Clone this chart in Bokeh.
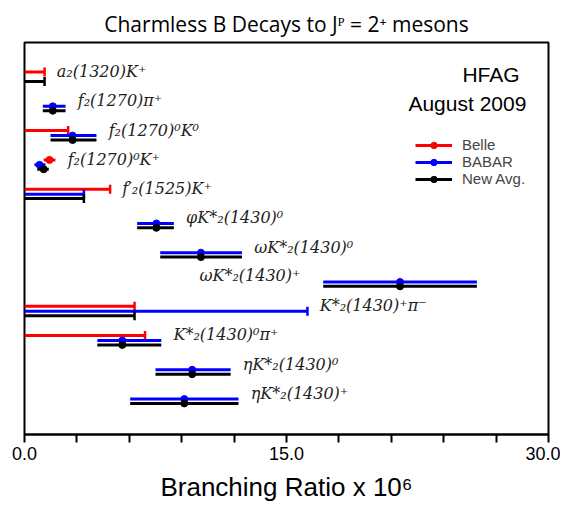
import math
from bokeh.plotting import figure
from bokeh.models import (Range1d, FixedTicker, PrintfTickFormatter, Legend,
                          LegendItem, Label, ColumnDataSource)
from bokeh.core.properties import value
from bokeh.embed import file_html
from bokeh.resources import INLINE

nan = float("nan")

# ---------------- data (branching ratio x 10^6) ----------------
decays = ["a₂(1320)K⁺", "f₂(1270)π⁺", "f₂(1270)⁰K⁰", "f₂(1270)⁰K⁺",
          "f′₂(1525)K⁺", "φK*₂(1430)⁰", "ωK*₂(1430)⁰", "ωK*₂(1430)⁺",
          "K*₂(1430)⁺π⁻", "K*₂(1430)⁰π⁺", "ηK*₂(1430)⁰", "ηK*₂(1430)⁺"]

belle_val = [nan, nan, nan, 1.43, nan, nan, nan, nan, nan, nan, nan, nan]
belle_em  = [nan, nan, nan, 0.33, nan, nan, nan, nan, nan, nan, nan, nan]
belle_ep  = [nan, nan, nan, 0.34, nan, nan, nan, nan, nan, nan, nan, nan]
belle_ul  = [1.15, nan, 2.5, nan, 4.9, nan, nan, nan, 6.3, 6.9, nan, nan]

babar_val = [nan, 1.62, 2.75, 0.86, nan, 7.55, 10.1, 21.5, nan, 5.6, 9.6, 9.15]
babar_em  = [nan, 0.57, 1.26, 0.29, nan, 1.10, 2.33, 4.4, nan, 1.43, 2.1, 3.1]
babar_ep  = [nan, 0.73, 1.37, 0.34, nan, 1.00, 2.35, 4.4, nan, 2.23, 2.2, 3.1]
babar_ul  = [nan, nan, nan, nan, 3.4, nan, nan, nan, 16.2, nan, nan, nan]

avg_val = [nan, 1.62, 2.75, 1.10, nan, 7.55, 10.1, 21.5, nan, 5.6, 9.6, 9.15]
avg_em  = [nan, 0.57, 1.26, 0.37, nan, 1.10, 2.33, 4.4, nan, 1.43, 2.1, 3.1]
avg_ep  = [nan, 0.73, 1.37, 0.29, nan, 1.00, 2.35, 4.4, nan, 2.23, 2.2, 3.1]
avg_ul  = [1.15, nan, nan, nan, 3.4, nan, nan, nan, 6.3, nan, nan, nan]

x_ticks = [0, 15, 30]
x_minor = [3, 6, 9, 12, 18, 21, 24, 27]

n = len(decays)

p = figure(width=560, height=508, output_backend="svg", toolbar_location=None,
           x_range=Range1d(0, 30), y_range=Range1d(12.06, -1.33),
           y_axis_location=None,
           min_border_left=24, min_border_right=12, min_border_top=42,
           min_border_bottom=74)
p.grid.visible = False
p.outline_line_color = "black"
p.outline_line_width = 2
p.background_fill_color = "white"
p.border_fill_color = "white"

p.title.text = "Charmless B Decays to Jᴾ = 2⁺ mesons"
p.title.align = "center"
p.title.text_font = "Open Sans"
p.title.text_font_style = "normal"
p.title.text_font_size = "21px"
p.title.text_color = "black"

ax = p.xaxis[0]
ax.ticker = FixedTicker(ticks=x_ticks, minor_ticks=x_minor)
ax.formatter = PrintfTickFormatter(format="%.1f")
ax.major_tick_in = 0
ax.major_tick_out = 8
ax.minor_tick_in = 0
ax.minor_tick_out = 8
ax.major_tick_line_width = 2
ax.minor_tick_line_width = 2
ax.major_tick_line_color = "black"
ax.minor_tick_line_color = "black"
ax.axis_line_width = 2
ax.axis_line_color = "black"
ax.major_label_text_font = "Liberation Sans"
ax.major_label_text_font_size = "18px"
ax.major_label_text_color = "black"
ax.major_label_standoff = 4
ax.axis_label = "Branching Ratio x 10⁶"
ax.axis_label_text_font = "Liberation Sans"
ax.axis_label_text_font_size = "26px"
ax.axis_label_text_font_style = "normal"
ax.axis_label_text_color = "black"
ax.axis_label_standoff = 9


def add_experiment(val, em, ep, ul, offset, color):
    x0, x1, ys, dx, dy, cx, cy = [], [], [], [], [], [], []
    for i in range(n):
        y = i + offset
        if not math.isnan(val[i]):
            x0.append(val[i] - em[i]); x1.append(val[i] + ep[i]); ys.append(y)
            dx.append(val[i]); dy.append(y)
        if not math.isnan(ul[i]):
            x0.append(0.0); x1.append(ul[i]); ys.append(y)
            cx.append(ul[i]); cy.append(y)
    seg = p.segment(x0="x0", y0="y", x1="x1", y1="y",
                    source=ColumnDataSource(dict(x0=x0, x1=x1, y=ys)),
                    line_color=color, line_width=3)
    dot = p.scatter(x=dx, y=dy, size=7, fill_color=color, line_color=color)
    p.scatter(x=cx, y=cy, marker="dash", angle=math.pi / 2, size=9,
              line_color=color, line_width=2.5)
    return [seg, dot]


belle = add_experiment(belle_val, belle_em, belle_ep, belle_ul, -0.32, "#ff0000")
babar = add_experiment(babar_val, babar_em, babar_ep, babar_ul, -0.15, "#0000ff")
avg = add_experiment(avg_val, avg_em, avg_ep, avg_ul, 0.0, "black")

# decay labels
lx, ly, lt, rx, ry, rt = [], [], [], [], [], []
for i in range(n):
    ends = [v for v in (belle_ul[i], babar_ul[i], avg_ul[i]) if not math.isnan(v)]
    for v, e in ((belle_val[i], belle_ep[i]), (babar_val[i], babar_ep[i]), (avg_val[i], avg_ep[i])):
        if not math.isnan(v):
            ends.append(v + e)
    if i == 7:
        starts = [v - e for v, e in ((babar_val[i], babar_em[i]), (avg_val[i], avg_em[i]))]
        rx.append(min(starts) - 1.3); ry.append(i - 0.36); rt.append(decays[i])
    else:
        lx.append(max(ends) + 0.7); ly.append(i - 0.34); lt.append(decays[i])

p.text(x=lx, y=ly, text=lt, text_font=value("DejaVu Serif"), text_font_style="italic",
       text_font_size="16px", text_baseline="middle", text_align="left", text_color="#222222")
p.text(x=rx, y=ry, text=rt, text_font=value("DejaVu Serif"), text_font_style="italic",
       text_font_size="16px", text_baseline="middle", text_align="right", text_color="#222222")

p.add_layout(Label(x=25.07, y=-0.24, text="HFAG", text_font="Liberation Sans",
                   text_font_size="21px", text_baseline="middle", text_color="black"))
p.add_layout(Label(x=21.98, y=0.75, text="August 2009", text_font="Liberation Sans",
                   text_font_size="21px", text_baseline="middle", text_color="black"))

legend = Legend(items=[LegendItem(label="Belle", renderers=belle),
                       LegendItem(label="BABAR", renderers=babar),
                       LegendItem(label="New Avg.", renderers=avg)],
                location=(391, 247), padding=0, margin=0, spacing=0,
                glyph_width=37, glyph_height=16, label_height=16,
                label_standoff=10, label_text_font="Liberation Sans",
                label_text_font_size="15px", border_line_alpha=0,
                background_fill_alpha=0)
p.add_layout(legend)

open("out.html", "w").write(file_html(p, INLINE))
